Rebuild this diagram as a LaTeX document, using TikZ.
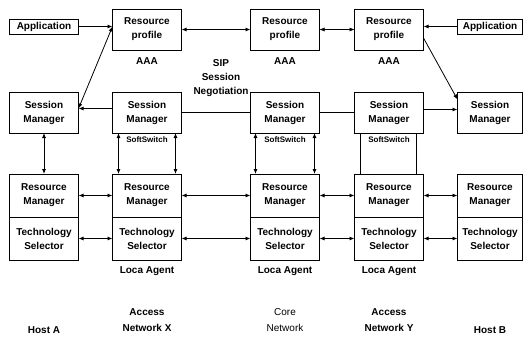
\documentclass[tikz,border=0pt]{standalone}
\usepackage{fontspec}
\setmainfont{Liberation Sans}
\usepackage{xcolor}
\usetikzlibrary{arrows.meta, positioning}

\begin{document}
\begin{tikzpicture}[
  x=1pt, y=1pt,
  box/.style={rectangle, draw, line width=0.9pt, outer sep=0pt,
              minimum width=69pt, minimum height=41pt, inner sep=1pt,
              font=\fontsize{10}{14}\selectfont\bfseries, align=center},
  hbox/.style={box, minimum height=43pt},
  appbox/.style={box, minimum height=15pt},
  lbl/.style={inner sep=0pt, font=\fontsize{10}{14}\selectfont\bfseries, align=center},
  net/.style={inner sep=0pt, font=\fontsize{10}{16}\selectfont\bfseries, align=center},
  sw/.style={inner sep=0pt, font=\fontsize{8}{10}\selectfont\bfseries},
  arr/.style={-{Latex[length=5pt,width=4pt]}, line width=0.8pt},
  dbl/.style={{Latex[length=5pt,width=4pt]}-{Latex[length=5pt,width=4pt]}, line width=0.8pt},
  ln/.style={line width=0.8pt}
]
\useasboundingbox (0,0) rectangle (525,-337);
% Resource profiles (AAA)
\node[box] (rpx) at (147,-29.5) {Resource\\profile};
\node[box, right=69pt of rpx] (rpc) {Resource\\profile};
\node[box, right=35pt of rpc] (rpy) {Resource\\profile};
\node[lbl, below=7pt of rpx] (aaax) {AAA};
\node[lbl, below=7pt of rpc] (aaac) {AAA};
\node[lbl, below=7pt of rpy] (aaay) {AAA};
% Session managers
\node[box, below=42pt of rpx] (smx) {Session\\Manager};
\node[box, below=42pt of rpc] (smc) {Session\\Manager};
\node[box, below=42pt of rpy] (smy) {Session\\Manager};
\node[box, left=34pt of smx] (sma) {Session\\Manager};
\node[box, minimum width=65pt, right=34pt of smy] (smb) {Session\\Manager};
% Applications
\node[appbox, above=58pt of sma] (appa) {Application};
\node[appbox, minimum width=65pt, above=58pt of smb] (appb) {Application};
% Resource managers and technology selectors
\node[hbox, below=41pt of sma] (rma) {Resource\\Manager};
\node[hbox, below=41pt of smx] (rmx) {Resource\\Manager};
\node[hbox, below=41pt of smc] (rmc) {Resource\\Manager};
\node[hbox, below=41pt of smy] (rmy) {Resource\\Manager};
\node[hbox, minimum width=65pt, below=41pt of smb] (rmb) {Resource\\Manager};
\node[hbox, below=0pt of rma] (tsa) {Technology\\Selector};
\node[hbox, below=0pt of rmx] (tsx) {Technology\\Selector};
\node[hbox, below=0pt of rmc] (tsc) {Technology\\Selector};
\node[hbox, below=0pt of rmy] (tsy) {Technology\\Selector};
\node[hbox, minimum width=65pt, below=0pt of rmb] (tsb) {Technology\\Selector};
\node[lbl, below=6pt of tsx] (lax) {Loca Agent};
\node[lbl, below=6pt of tsc] (lac) {Loca Agent};
\node[lbl, below=6pt of tsy] (lay) {Loca Agent};
% SoftSwitch labels
\node[sw, below=4pt of smx] (swx) {SoftSwitch};
\node[sw, below=4pt of smc] (swc) {SoftSwitch};
\node[sw, below=4pt of smy] (swy) {SoftSwitch};
% Other labels
\node[lbl] (sip) at (221,-78) {SIP\\Session\\Negotiation};
\node[net, below=66pt of tsa] (hosta) {Host A};
\node[net, below=48pt of tsx] (netx) {Access\\Network X};
\node[net, below=48pt of tsc, font=\fontsize{10}{16}\selectfont] (netc) {Core\\Network};
\node[net, below=48pt of tsy] (nety) {Access\\Network Y};
\node[net, below=66pt of tsb] (hostb) {Host B};

% Top row
\draw[arr] (appa.east) -- (appa.east -| rpx.west);
\draw[dbl] (rpx) -- (rpc);
\draw[dbl, line width=0.5pt] (rpc) -- (rpy);
\draw[arr] (appb.west) -- (appb.west -| rpy.east);
\draw[dbl] ([yshift=4pt]sma.east) -- ([yshift=3pt]rpx.west);
\draw[arr] ([yshift=-8.5pt]rpy.east) -- ([yshift=13pt]smb.west);
% Session negotiation
\draw[arr] ([yshift=4pt]smx.west) -- ([yshift=4pt]sma.east);
\draw[ln] (smx) -- (smc);
\draw[ln] (smc) -- (smy);
\draw[arr] ([yshift=3pt]smy.east) -- ([yshift=3pt]smb.west);
% SoftSwitch links
\draw[dbl] (sma) -- (rma);
\draw[dbl] ([xshift=6pt]smx.south west) -- ([xshift=6pt]rmx.north west);
\draw[dbl] ([xshift=-6pt]smx.south east) -- ([xshift=-6pt]rmx.north east);
\draw[dbl] ([xshift=5pt]smc.south west) -- ([xshift=5pt]rmc.north west);
\draw[dbl] ([xshift=-5pt]smc.south east) -- ([xshift=-5pt]rmc.north east);
\draw[ln] ([xshift=6pt]smy.south west) -- ([xshift=6pt]rmy.north west);
\draw[ln] ([xshift=-7pt]smy.south east) -- ([xshift=-7pt]rmy.north east);
% Resource managers and selectors
\draw[dbl] (rma) -- (rmx); \draw[dbl] (rmx) -- (rmc);
\draw[dbl] (rmc) -- (rmy); \draw[dbl] (rmy) -- (rmb);
\draw[dbl] (tsa) -- (tsx); \draw[dbl] (tsx) -- (tsc);
\draw[dbl] (tsc) -- (tsy); \draw[dbl] (tsy) -- (tsb);
\end{tikzpicture}
\end{document}
